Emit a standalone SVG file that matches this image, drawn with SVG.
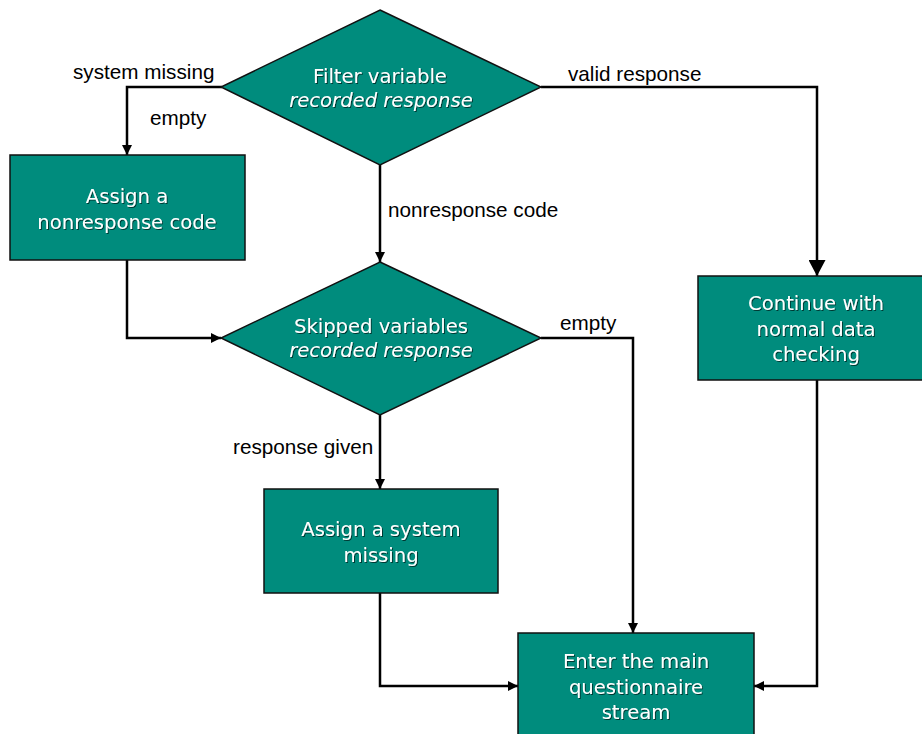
<svg xmlns="http://www.w3.org/2000/svg" width="922" height="734" viewBox="0 0 922 734">
<style>
.node{fill:#008C7D;stroke:#111;stroke-width:1.5}
.nt{font-family:"DejaVu Sans",sans-serif;font-size:19.6px;fill:#fff;text-anchor:middle;filter:url(#sh)}
.it{font-style:italic}
.lbl{font-family:"Liberation Sans",Arial,sans-serif;font-size:20.7px;fill:#000}
.conn{fill:none;stroke:#000;stroke-width:2.5}
</style>
<defs>
<filter id="sh" x="-10%" y="-30%" width="120%" height="160%">
<feDropShadow dx="1" dy="1" stdDeviation="0.4" flood-color="#000" flood-opacity="0.6"/>
</filter>
<marker id="ah" markerWidth="10" markerHeight="10" refX="10" refY="5" orient="auto" markerUnits="userSpaceOnUse" viewBox="0 0 10 10">
<path d="M0,0 L10,5 L0,10 Z" fill="#000"/>
</marker>
<marker id="ahL" markerWidth="16" markerHeight="17" refX="16" refY="8.5" orient="auto" markerUnits="userSpaceOnUse" viewBox="0 0 16 17">
<path d="M0,0 L16,8.5 L0,17 Z" fill="#000"/>
</marker>
</defs>

<g id="connectors">
<path class="conn" d="M222,87 H127 V155" marker-end="url(#ah)"/>
<path class="conn" d="M541,87 H817 V276" marker-end="url(#ahL)"/>
<path class="conn" d="M380,165 V262" marker-end="url(#ah)"/>
<path class="conn" d="M127,260 V338 H221" marker-end="url(#ah)"/>
<path class="conn" d="M541,338 H633 V633" marker-end="url(#ah)"/>
<path class="conn" d="M380,415 V489" marker-end="url(#ah)"/>
<path class="conn" d="M380,593 V686 H518" marker-end="url(#ah)"/>
<path class="conn" d="M817,380 V686 H754" marker-end="url(#ah)"/>
<text class="lbl" x="73" y="79">system missing</text>
<text class="lbl" x="150" y="125">empty</text>
<text class="lbl" x="568" y="81">valid response</text>
<text class="lbl" x="388" y="217">nonresponse code</text>
<text class="lbl" x="560" y="330">empty</text>
<text class="lbl" x="233" y="454">response given</text>
</g>

<g id="filter">
<polygon class="node" points="380,10 541,87 380,165 221,87"/>
<text class="nt" x="380" y="83">Filter variable</text>
<text class="nt it" x="381" y="107">recorded response</text>
</g>

<g id="assignNonresponse">
<rect class="node" x="10" y="155" width="235" height="105"/>
<text class="nt" x="127" y="203">Assign a</text>
<text class="nt" x="127" y="229">nonresponse code</text>
</g>

<g id="skipped">
<polygon class="node" points="380,262 541,338 380,415 221,338"/>
<text class="nt" x="381" y="333">Skipped variables</text>
<text class="nt it" x="381" y="357">recorded response</text>
</g>

<g id="continue">
<rect class="node" x="698" y="276" width="226" height="104"/>
<text class="nt" x="816" y="310">Continue with</text>
<text class="nt" x="816" y="336">normal data</text>
<text class="nt" x="816" y="361">checking</text>
</g>

<g id="assignSystem">
<rect class="node" x="264" y="489" width="234" height="104"/>
<text class="nt" x="381" y="536">Assign a system</text>
<text class="nt" x="381" y="562">missing</text>
</g>

<g id="enter">
<rect class="node" x="518" y="633" width="236" height="104"/>
<text class="nt" x="636" y="668">Enter the main</text>
<text class="nt" x="636" y="694">questionnaire</text>
<text class="nt" x="636" y="719">stream</text>
</g>
</svg>
